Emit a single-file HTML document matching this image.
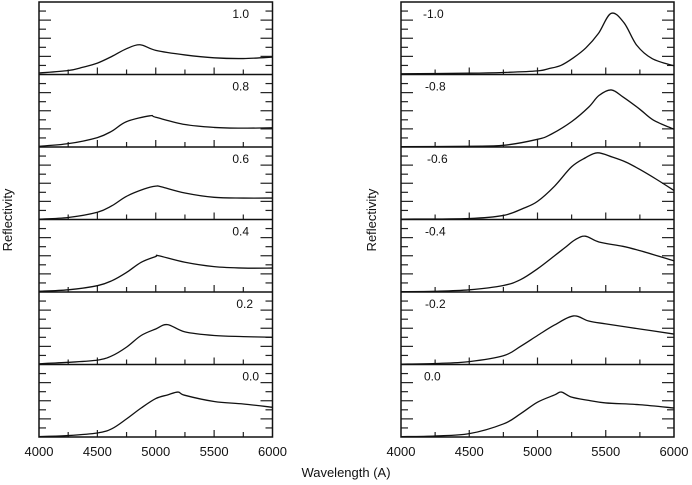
<!DOCTYPE html>
<html><head><meta charset="utf-8">
<style>
html,body{margin:0;padding:0;background:#fff;}
svg{display:block;font-family:"Liberation Sans",sans-serif;}
</style></head>
<body>
<svg id="chart" width="692" height="485" viewBox="0 0 692 485" xmlns="http://www.w3.org/2000/svg"></svg>
<script>
const xTicks = [4000, 4500, 5000, 5500, 6000];
const leftLabels = ["1.0", "0.8", "0.6", "0.4", "0.2", "0.0"];
const rightLabels = ["-1.0", "-0.8", "-0.6", "-0.4", "-0.2", "0.0"];

const L1x = [4000,4250,4375,4500,4625,4750,4865,5000,5250,5500,5750,6000];
const L1y = [0.02,0.055,0.10,0.157,0.25,0.356,0.41,0.333,0.27,0.23,0.22,0.24];
const L2x = [4000,4250,4500,4625,4750,4950,5000,5250,5500,5750,6000];
const L2y = [0.01,0.046,0.13,0.22,0.35,0.43,0.41,0.31,0.27,0.26,0.265];
const L3x = [4000,4250,4500,4625,4750,4900,5000,5050,5250,5500,5750,6000];
const L3y = [0.005,0.028,0.10,0.19,0.32,0.42,0.46,0.45,0.366,0.306,0.296,0.296];
const L4x = [4000,4250,4500,4625,4750,4875,5000,5025,5250,5500,5750,6000];
const L4y = [0.01,0.03,0.087,0.156,0.27,0.41,0.49,0.50,0.41,0.35,0.33,0.33];
const L5x = [4000,4250,4500,4625,4750,4875,5000,5100,5250,5500,5750,6000];
const L5y = [0.01,0.03,0.06,0.12,0.24,0.40,0.49,0.55,0.45,0.40,0.385,0.376];
const L6x = [4000,4250,4500,4625,4750,4875,5000,5100,5190,5250,5500,5750,6000];
const L6y = [0.005,0.02,0.055,0.115,0.25,0.40,0.53,0.58,0.62,0.575,0.49,0.455,0.41];

const R1x = [4000,4500,4750,5000,5080,5171,5263,5354,5446,5539,5634,5727,5841,6000];
const R1y = [0.01,0.018,0.028,0.05,0.08,0.125,0.23,0.366,0.565,0.843,0.713,0.403,0.218,0.12];
const R2x = [4000,4500,4750,5000,5100,5250,5375,5450,5540,5630,5750,5850,6000];
const R2y = [0.005,0.01,0.023,0.106,0.176,0.35,0.55,0.71,0.787,0.685,0.52,0.37,0.245];
const R3x = [4000,4500,4750,4900,5000,5125,5250,5350,5440,5550,5650,5750,5875,6000];
const R3y = [0.005,0.014,0.056,0.157,0.25,0.46,0.727,0.85,0.92,0.86,0.79,0.69,0.55,0.40];
const R4x = [4000,4250,4500,4750,4875,5000,5125,5200,5275,5350,5450,5625,5750,6000];
const R4y = [0.005,0.01,0.03,0.09,0.17,0.32,0.50,0.61,0.72,0.77,0.69,0.63,0.57,0.43];
const R5x = [4000,4250,4500,4750,4875,5000,5125,5263,5375,5500,5750,6000];
const R5y = [0.005,0.014,0.04,0.12,0.25,0.40,0.545,0.67,0.60,0.56,0.49,0.42];
const R6x = [4000,4250,4500,4750,4875,5000,5125,5175,5250,5375,5500,5750,6000];
const R6y = [0.005,0.014,0.046,0.18,0.32,0.48,0.58,0.62,0.55,0.505,0.47,0.445,0.40];

const leftSeries = [[L1x,L1y],[L2x,L2y],[L3x,L3y],[L4x,L4y],[L5x,L5y],[L6x,L6y]];
const rightSeries = [[R1x,R1y],[R2x,R2y],[R3x,R3y],[R4x,R4y],[R5x,R5y],[R6x,R6y]];

const NS = "http://www.w3.org/2000/svg";
const svg = document.getElementById("chart");
const TOP = 2, BOT = 437, NP = 6, PH = (BOT - TOP) / NP;
const XMIN = 4000, XMAX = 6000;

function mk(tag, attrs, parent) {
  const e = document.createElementNS(NS, tag);
  for (const k in attrs) e.setAttribute(k, attrs[k]);
  (parent || svg).appendChild(e);
  return e;
}

function smoothPath(pts) {
  let d = "M" + pts[0][0].toFixed(2) + "," + pts[0][1].toFixed(2);
  const t = 0.17;
  for (let i = 0; i < pts.length - 1; i++) {
    const p0 = pts[Math.max(i - 1, 0)], p1 = pts[i], p2 = pts[i + 1], p3 = pts[Math.min(i + 2, pts.length - 1)];
    const c1x = p1[0] + (p2[0] - p0[0]) * t, c1y = p1[1] + (p2[1] - p0[1]) * t;
    const c2x = p2[0] - (p3[0] - p1[0]) * t, c2y = p2[1] - (p3[1] - p1[1]) * t;
    d += "C" + c1x.toFixed(2) + "," + c1y.toFixed(2) + " " + c2x.toFixed(2) + "," + c2y.toFixed(2) + " " + p2[0].toFixed(2) + "," + p2[1].toFixed(2);
  }
  return d;
}

function drawColumn(x0, x1, series, labels, labelX, anchor, side) {
  const g = mk("g", {});
  
  
  const sx = v => x0 + (v - XMIN) / (XMAX - XMIN) * (x1 - x0);
  for (let p = 0; p < NP; p++) {
    const top = TOP + p * PH, bot = top + PH;
    const sy = v => bot - v * PH;
    const pg = mk("g", {}, g);
    
    
    for (let k = 1; k < 8; k++) {
      const y = top + k * PH / 8;
      const len = (k % 2 === 0) ? 12 : 7;
      mk("line", {x1: x0, x2: x0 + len, y1: y, y2: y, stroke: "#222", "stroke-width": 1.2}, pg);
      mk("line", {x1: x1, x2: x1 - len, y1: y, y2: y, stroke: "#222", "stroke-width": 1.2}, pg);
    }
    for (let w = 4250; w < 6000; w += 250) {
      const len = (w % 500 === 0) ? 7 : 5;
      mk("line", {x1: sx(w), x2: sx(w), y1: bot, y2: bot - len, stroke: "#222", "stroke-width": 1.2}, pg);
    }
    const xs = series[p][0], ys = series[p][1];
    const pts = xs.map((x, i) => [sx(x), sy(ys[i])]);
    const path = mk("path", {d: smoothPath(pts), fill: "none", stroke: "#111", "stroke-width": 1.3}, pg);
    
    
    const t = mk("text", {x: labelX[p], y: top + 16, "font-size": 12, "text-anchor": anchor, fill: "#111"}, pg);
    t.textContent = labels[p];
    
    
    if (p > 0) mk("line", {x1: x0, x2: x1, y1: top, y2: top, stroke: "#111", "stroke-width": 1.5}, pg);
  }
  const fr = mk("rect", {x: x0, y: TOP, width: x1 - x0, height: BOT - TOP, fill: "none", stroke: "#111", "stroke-width": 1.5}, g);
  
  
  xTicks.forEach(w => {
    const t = mk("text", {x: sx(w), y: 456, "font-size": 13, "text-anchor": "middle", fill: "#111"}, g);
    t.textContent = w;
    
    
  });
}

drawColumn(39, 272.5, leftSeries, leftLabels, [249,249,249,249,253,259], "end", "left");
drawColumn(401, 674, rightSeries, rightLabels, [423,425,427,425,425,424], "start", "right");

const xl = mk("text", {x: 346, y: 477, "font-size": 13, "text-anchor": "middle", fill: "#111"});
xl.textContent = "Wavelength (A)";


[[12, "left"], [376, "right"]].forEach(([x, s]) => {
  const t = mk("text", {x: x, y: 220, "font-size": 13, "text-anchor": "middle", fill: "#111", transform: "rotate(-90 " + x + " 220)"});
  t.textContent = "Reflectivity";
  
  
});
</script>
</body></html>
